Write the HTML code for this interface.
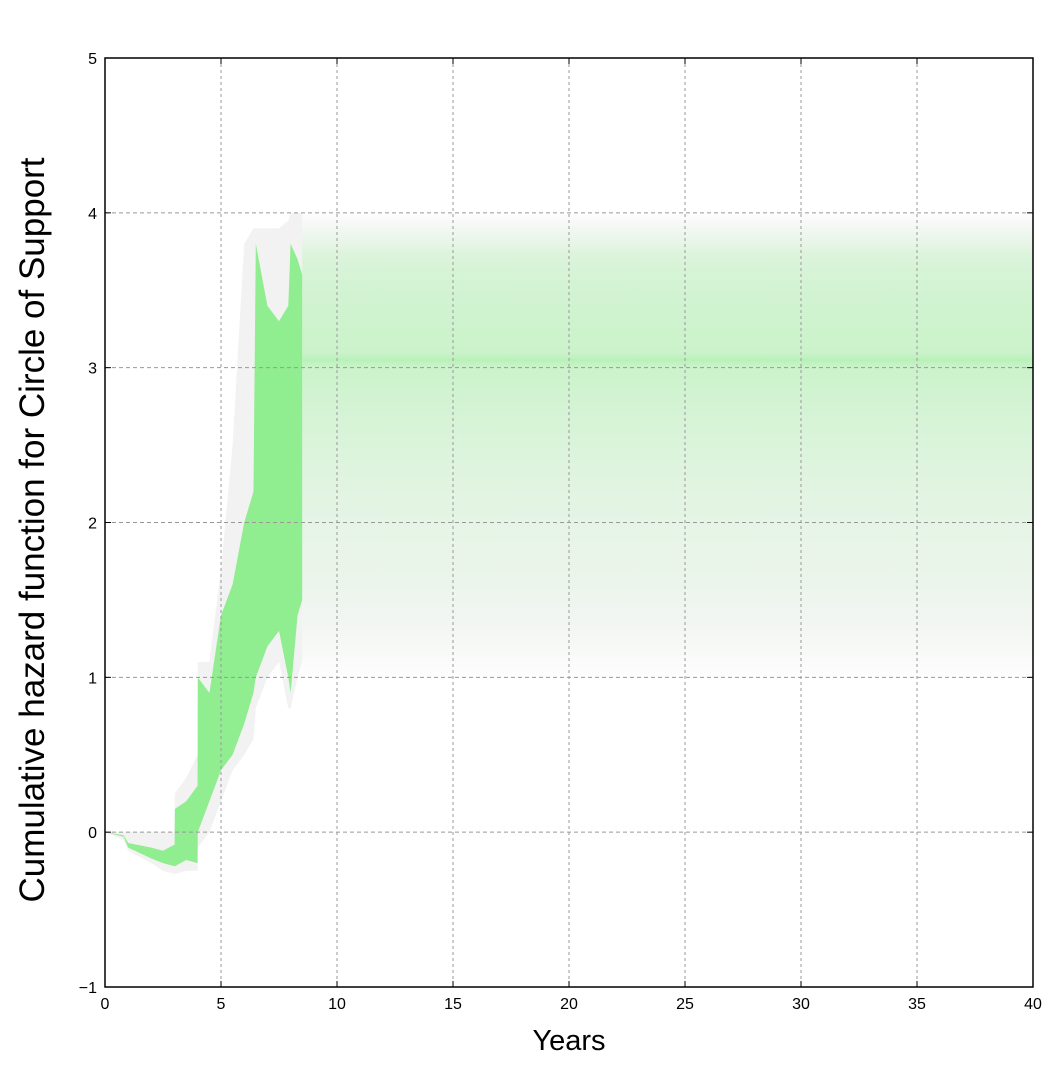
<!DOCTYPE html>
<html><head><meta charset="utf-8"><style>
body{margin:0;background:#fff;font-family:"Liberation Sans",sans-serif}
svg text{font-family:"Liberation Sans",sans-serif}
</style></head><body>
<svg id="c" width="1061" height="1073"></svg>
<script>
const xTicks=[0,5,10,15,20,25,30,35,40];
const yTicks=[-1,0,1,2,3,4,5];
const coreYears=[0,0.8,1,2,2.5,3,3.01,3.5,3.99,4,4.5,5,5.5,6,6.4,6.5,7,7.5,7.9,8,8.3,8.5];
const coreUpper=[0,-0.02,-0.07,-0.1,-0.12,-0.08,0.15,0.2,0.3,1.0,0.9,1.4,1.6,2.0,2.2,3.8,3.4,3.3,3.4,3.8,3.7,3.6];
const coreLower=[0,-0.03,-0.1,-0.17,-0.2,-0.22,-0.22,-0.18,-0.2,0,0.2,0.4,0.5,0.7,0.9,1.0,1.2,1.3,1.0,0.9,1.4,1.5];
const hazeUpper=[0,0,0,0,0,0,0.25,0.35,0.5,1.1,1.1,1.7,2.5,3.8,3.9,3.9,3.9,3.9,3.95,4.0,4.0,4.0];
const hazeLower=[0,-0.05,-0.12,-0.2,-0.25,-0.27,-0.27,-0.25,-0.25,-0.1,0.0,0.2,0.4,0.5,0.6,0.8,1.0,1.1,0.8,0.8,1.0,1.1];
const bandStart=8.5, bandEnd=40;
const bandLevels=[4.0,3.9,3.7,3.4,3.1,3.05,3.0,2.7,2.3,2.0,1.6,1.4,1.2,1.0];
const bandGreen=[0,0.04,0.28,0.38,0.42,0.6,0.42,0.32,0.22,0.16,0.1,0.05,0.02,0];
const bandGray=[0.05,0.25,0.3,0.3,0.3,0.3,0.3,0.3,0.3,0.3,0.3,0.3,0.2,0.05];
const X0=105,X1=1033,Y0=987,Y1=58;
const sx=v=>X0+(v-0)/40*(X1-X0);
const sy=v=>Y0-(v+1)/6*(Y0-Y1);
const svg=document.getElementById('c');const NS='http://www.w3.org/2000/svg';
function mk(t,a,p){const e=document.createElementNS(NS,t);for(const k in a)e.setAttribute(k,a[k]);(p||svg).appendChild(e);return e;}
const defs=mk('defs',{});
const gg=mk('linearGradient',{id:'bandG',x1:0,y1:sy(bandLevels[0]),x2:0,y2:sy(bandLevels[bandLevels.length-1]),gradientUnits:'userSpaceOnUse'},defs);
const gy=mk('linearGradient',{id:'bandY',x1:0,y1:sy(bandLevels[0]),x2:0,y2:sy(bandLevels[bandLevels.length-1]),gradientUnits:'userSpaceOnUse'},defs);
const span=bandLevels[0]-bandLevels[bandLevels.length-1];
bandLevels.forEach((l,i)=>{const off=(bandLevels[0]-l)/span;
mk('stop',{offset:off,'stop-color':'#90ee90','stop-opacity':bandGreen[i]},gg);
mk('stop',{offset:off,'stop-color':'#e0e0e0','stop-opacity':bandGray[i]},gy);});
function env(up,lo,xs){let d='M';xs.forEach((x,i)=>{d+=sx(x)+','+sy(up[i])+' L';});
for(let i=xs.length-1;i>=0;i--){d+=sx(xs[i])+','+sy(lo[i])+(i?' L':'');}return d+'Z';}
const haze=mk('path',{d:env(hazeUpper,hazeLower,coreYears),fill:'#e6e6e6','fill-opacity':0.5});

const b1=mk('rect',{x:sx(bandStart),y:sy(bandLevels[0]),width:sx(bandEnd)-sx(bandStart),height:sy(bandLevels[bandLevels.length-1])-sy(bandLevels[0]),fill:'url(#bandY)'});

const b2=mk('rect',{x:sx(bandStart),y:sy(bandLevels[0]),width:sx(bandEnd)-sx(bandStart),height:sy(bandLevels[bandLevels.length-1])-sy(bandLevels[0]),fill:'url(#bandG)'});

const core=mk('path',{d:env(coreUpper,coreLower,coreYears),fill:'#90ee90'});

xTicks.forEach(t=>{if(t>0&&t<40){const l=mk('line',{x1:sx(t),x2:sx(t),y1:Y1,y2:Y0,stroke:'#999','stroke-dasharray':'3,3','stroke-width':1});
}
const tx=mk('text',{x:sx(t),y:Y0+22,'font-size':16,'text-anchor':'middle',fill:'#000'});tx.textContent=t;

mk('line',{x1:sx(t),x2:sx(t),y1:Y0,y2:Y0-6,stroke:'#000'});mk('line',{x1:sx(t),x2:sx(t),y1:Y1,y2:Y1+6,stroke:'#000'});});
yTicks.forEach(t=>{if(t>-1&&t<5){const l=mk('line',{x1:X0,x2:X1,y1:sy(t),y2:sy(t),stroke:'#999','stroke-dasharray':'4,3','stroke-width':1});
}
const tx=mk('text',{x:X0-8,y:sy(t)+6,'font-size':16,'text-anchor':'end',fill:'#000'});tx.textContent=(t<0?'\u22121':t);

mk('line',{x1:X0,x2:X0+6,y1:sy(t),y2:sy(t),stroke:'#000'});mk('line',{x1:X1,x2:X1-6,y1:sy(t),y2:sy(t),stroke:'#000'});});
const fr=mk('rect',{x:X0,y:Y1,width:X1-X0,height:Y0-Y1,fill:'none',stroke:'#000','stroke-width':1.5});

const xl=mk('text',{x:(X0+X1)/2,y:1050,'font-size':29,'text-anchor':'middle'});xl.textContent='Years';

const yl=mk('text',{x:0,y:0,'font-size':35,'text-anchor':'middle',transform:'translate(44,530) rotate(-90)'});yl.textContent='Cumulative hazard function for Circle of Support';

</script>
</body></html>
